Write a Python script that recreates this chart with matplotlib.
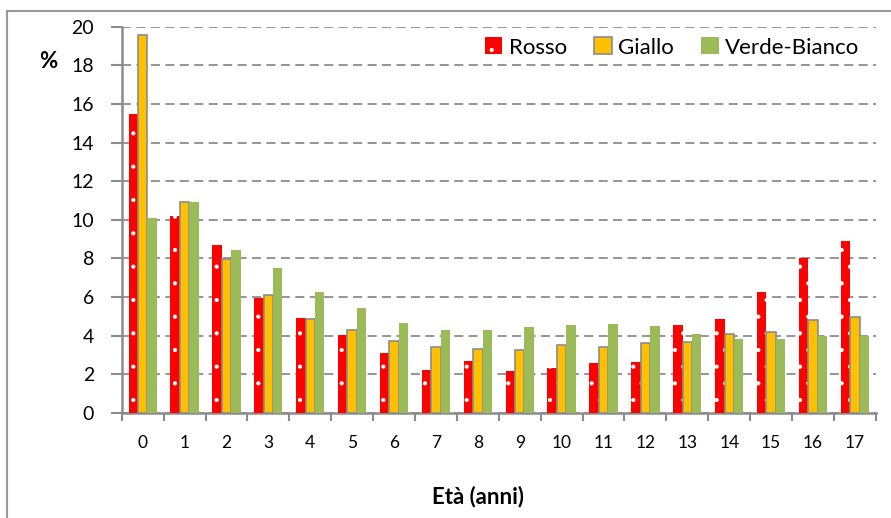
import numpy as np
import matplotlib
matplotlib.use("Agg")
import matplotlib.pyplot as plt
from matplotlib.patches import Rectangle

plt.rcParams['font.family'] = ['Lato', 'DejaVu Sans']
plt.rcParams['hatch.linewidth'] = 0.6

eta = list(range(18))
rosso = [15.5, 10.2, 8.7, 5.95, 4.9, 4.05, 3.12, 2.24, 2.71, 2.19, 2.35, 2.58, 2.62, 4.56, 4.87, 6.27, 8.03, 8.9]
giallo = [19.55, 10.93, 7.96, 6.1, 4.85, 4.3, 3.72, 3.42, 3.33, 3.28, 3.54, 3.42, 3.6, 3.67, 4.08, 4.2, 4.82, 4.99]
verde = [10.07, 10.9, 8.45, 7.5, 6.25, 5.44, 4.66, 4.28, 4.3, 4.44, 4.54, 4.6, 4.49, 4.08, 3.82, 3.82, 3.99, 3.99]
serie = ["Rosso", "Giallo", "Verde-Bianco"]

grey = "#8c8c8c"
fig = plt.figure(figsize=(8.91, 5.18), dpi=100)
ax = fig.add_axes([0.1366, 0.2027, 0.983 - 0.1366, 0.9485 - 0.2027])

x = np.arange(len(eta))
w = 0.225
ax.bar(x - w, rosso, w, color="#FF0000", edgecolor="white", linewidth=0, hatch=".", label=serie[0], zorder=3)
ax.bar(x, giallo, w, color="#FFC000", edgecolor=grey, linewidth=1.2, label=serie[1], zorder=3)
ax.bar(x + w, verde, w, color="#9BBB59", linewidth=0, label=serie[2], zorder=3)

ax.set_xlim(-0.5, len(eta) - 0.5)
ax.set_ylim(0, 20)
ax.set_yticks(np.arange(0, 21, 2))
ax.yaxis.grid(True, color=grey, linestyle=(0, (5, 3)), linewidth=1.3, zorder=0)
ax.tick_params(axis='y', labelsize=14, length=8, width=1.5, color=grey, pad=12)

ax.set_xticks(x)
ax.set_xticklabels([str(e) for e in eta])
ax.set_xticks(np.arange(-0.5, len(eta)), minor=True)
ax.tick_params(axis='x', which='major', length=0, labelsize=12.5, pad=16)
ax.tick_params(axis='x', which='minor', length=6, width=1.5, color=grey)

for s in ['top', 'right']:
    ax.spines[s].set_visible(False)
for s in ['left', 'bottom']:
    ax.spines[s].set_color(grey)
    ax.spines[s].set_linewidth(1.8)

ax.legend(loc='upper right', bbox_to_anchor=(0.99, 0.995), ncol=3, frameon=False,
          fontsize=16, handlelength=0.8, handleheight=0.8, handletextpad=0.3,
          columnspacing=1.2, borderaxespad=0)

fig.text(48 / 891, 1 - 62 / 518, "%", fontsize=16, fontweight='bold', ha='center', va='center')
fig.text(478 / 891, 1 - 497 / 518, "Età (anni)", fontsize=16, fontweight='bold', ha='center', va='center')

# cornice del grafico
fig.add_artist(Rectangle((7.3 / 891, -0.1), 1.2, 1.1 - 10.7 / 518, transform=fig.transFigure,
                         fill=False, edgecolor="#999999", linewidth=1.5))

fig.savefig("out.png", dpi=100)
